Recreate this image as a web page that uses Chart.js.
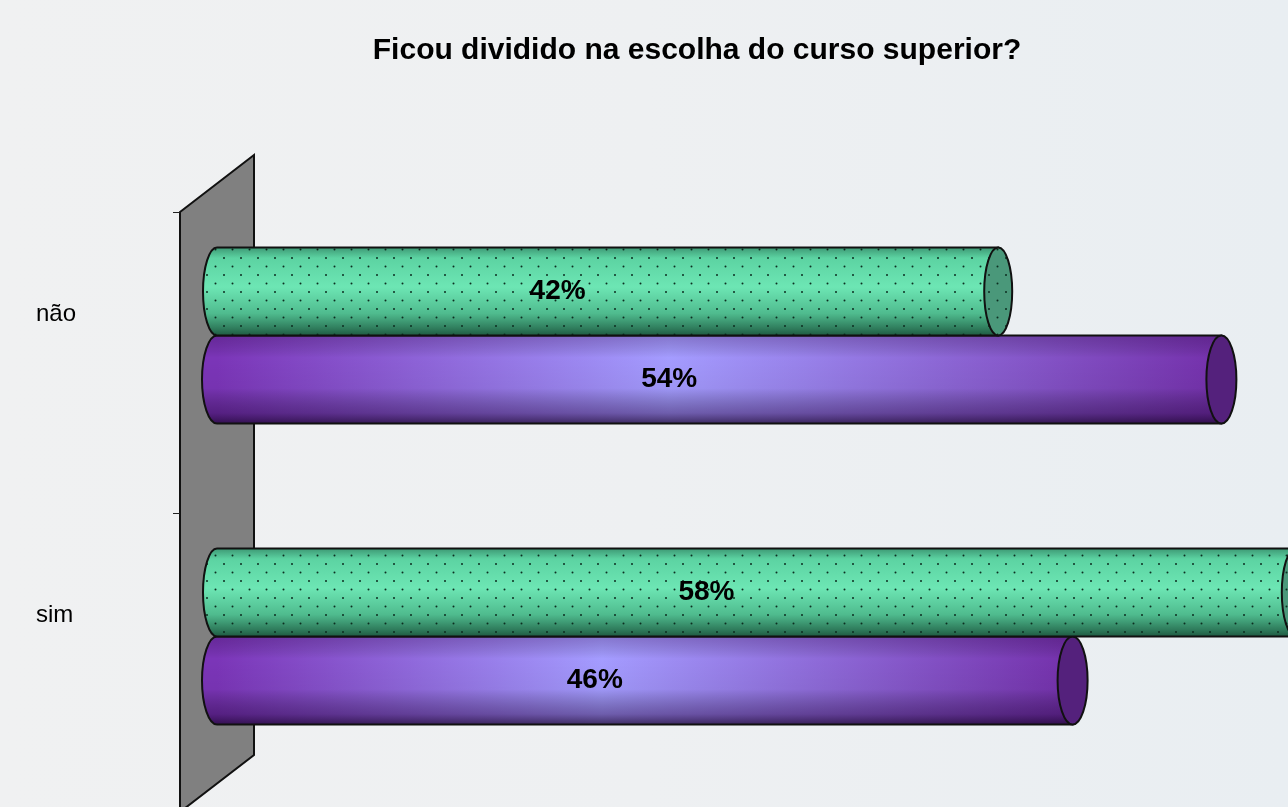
<!DOCTYPE html>
<html>
<head>
<meta charset="utf-8">
<script src="https://cdn.jsdelivr.net/npm/chart.js@4.4.1/dist/chart.umd.min.js"></script>
<style>
  html, body { margin: 0; padding: 0; overflow: hidden; }
  body { width: 1288px; height: 807px; background: linear-gradient(90deg, #f0f1f2 0%, #eef0f2 50%, #e9eef2 100%); }
  canvas { display: block; width: 1333px; height: 807px; }
</style>
</head>
<body>
<canvas id="chart" width="1333" height="807"></canvas>
<script>
const chartTitle = 'Ficou dividido na escolha do curso superior?';
const categories = ['não', 'sim'];
const seriesGreen = [42, 58];
const seriesPurple = [54, 46];

const FONT = '"Liberation Sans", Arial, sans-serif';

function dotPattern(ctx) {
  const c = document.createElement('canvas');
  c.width = 17; c.height = 17;
  const p = c.getContext('2d');
  p.fillStyle = '#0c2e20';
  [[3, 3], [11.5, 11.5]].forEach(d => {
    p.beginPath();
    p.arc(d[0], d[1], 1, 0, Math.PI * 2);
    p.fill();
  });
  return ctx.createPattern(c, 'repeat');
}

function bodyPath(ctx, x0, x1, y, h, rx) {
  ctx.beginPath();
  ctx.moveTo(x1, y - h / 2);
  ctx.lineTo(x0, y - h / 2);
  ctx.ellipse(x0, y, rx, h / 2, 0, -Math.PI / 2, Math.PI / 2, true);
  ctx.lineTo(x1, y + h / 2);
  ctx.closePath();
}

function capPath(ctx, x1, y, h, rx) {
  ctx.beginPath();
  ctx.ellipse(x1, y, rx, h / 2, 0, 0, Math.PI * 2);
}

function drawGreen(ctx, el, pattern) {
  const x0 = el.base, x1 = el.x, y = el.y, h = el.height, rx = 14;
  const top = y - h / 2;
  const g = ctx.createLinearGradient(0, top, 0, top + h);
  g.addColorStop(0, '#3d9874');
  g.addColorStop(0.12, '#5cd3a2');
  g.addColorStop(0.45, '#6de6b4');
  g.addColorStop(0.75, '#4fbb8e');
  g.addColorStop(0.92, '#2f7c5c');
  g.addColorStop(1, '#1f5a42');
  bodyPath(ctx, x0, x1, y, h, rx);
  ctx.fillStyle = g; ctx.fill();
  ctx.fillStyle = pattern; ctx.fill();
  ctx.lineWidth = 2; ctx.strokeStyle = '#111'; ctx.stroke();
  capPath(ctx, x1, y, h, rx);
  ctx.fillStyle = '#4a987a'; ctx.fill();
  ctx.fillStyle = pattern; ctx.fill();
  ctx.stroke();
}

function drawPurple(ctx, el) {
  const x0 = el.base, x1 = el.x, y = el.y, h = el.height, rx = 15;
  const top = y - h / 2;
  const hg = ctx.createLinearGradient(x0, 0, x1, 0);
  hg.addColorStop(0, '#7b35b8');
  hg.addColorStop(0.45, '#a49cff');
  hg.addColorStop(1, '#7430ab');
  const vg = ctx.createLinearGradient(0, top, 0, top + h);
  vg.addColorStop(0, 'rgba(40,0,60,0.25)');
  vg.addColorStop(0.25, 'rgba(0,0,0,0)');
  vg.addColorStop(0.6, 'rgba(0,0,0,0.04)');
  vg.addColorStop(0.88, 'rgba(30,0,50,0.4)');
  vg.addColorStop(1, 'rgba(20,0,35,0.7)');
  bodyPath(ctx, x0, x1, y, h, rx);
  ctx.fillStyle = hg; ctx.fill();
  ctx.fillStyle = vg; ctx.fill();
  ctx.lineWidth = 2; ctx.strokeStyle = '#111'; ctx.stroke();
  capPath(ctx, x1, y, h, rx);
  ctx.fillStyle = '#54217c'; ctx.fill();
  ctx.stroke();
}

const cylinderPlugin = {
  id: 'cylinders',
  beforeDatasetsDraw(chart) {
    const ctx = chart.ctx;
    const a = chart.chartArea;
    // back wall
    ctx.save();
    ctx.beginPath();
    ctx.moveTo(a.left - 37, a.top + 27);
    ctx.lineTo(a.left + 37, a.top - 30);
    ctx.lineTo(a.left + 37, a.bottom - 32);
    ctx.lineTo(a.left - 37, a.bottom + 25);
    ctx.closePath();
    ctx.fillStyle = '#808080'; ctx.fill();
    ctx.lineWidth = 2; ctx.strokeStyle = '#111'; ctx.stroke();
    // category tick marks
    const band = (a.bottom - a.top) / categories.length;
    ctx.lineWidth = 1; ctx.strokeStyle = '#222';
    for (let i = 0; i <= categories.length; i++) {
      const ty = Math.round(a.top + 27 + i * band) + 0.5;
      ctx.beginPath();
      ctx.moveTo(a.left - 44, ty);
      ctx.lineTo(a.left - 37, ty);
      ctx.stroke();
    }
    ctx.restore();
  },
  afterDatasetsDraw(chart) {
    const ctx = chart.ctx;
    const pattern = dotPattern(ctx);
    ctx.save();
    const green = chart.getDatasetMeta(0).data;
    const purple = chart.getDatasetMeta(1).data;
    purple.forEach(el => drawPurple(ctx, el));
    green.forEach(el => drawGreen(ctx, el, pattern));
    // value labels
    ctx.fillStyle = '#000';
    ctx.font = 'bold 28px ' + FONT;
    ctx.textAlign = 'center';
    ctx.textBaseline = 'middle';
    [chart.getDatasetMeta(0), chart.getDatasetMeta(1)].forEach((meta, di) => {
      const vals = di === 0 ? seriesGreen : seriesPurple;
      meta.data.forEach((el, i) => {
        ctx.fillText(vals[i] + '%', (el.base + el.x) / 2 - 50, el.y);
      });
    });
    // title
    ctx.font = 'bold 30px ' + FONT;
    ctx.fillText(chartTitle, 697, 51);
    ctx.restore();
  }
};

const ctx = document.getElementById('chart').getContext('2d');
new Chart(ctx, {
  type: 'bar',
  data: {
    labels: categories,
    datasets: [
      { label: 'Série 1', data: seriesGreen, backgroundColor: 'rgba(0,0,0,0)', categoryPercentage: 0.585, barPercentage: 1 },
      { label: 'Série 2', data: seriesPurple, backgroundColor: 'rgba(0,0,0,0)', categoryPercentage: 0.585, barPercentage: 1 }
    ]
  },
  options: {
    indexAxis: 'y',
    responsive: false,
    maintainAspectRatio: false,
    animation: false,
    layout: { padding: { top: 185, bottom: 20, left: 36, right: 0 } },
    plugins: {
      legend: { display: false },
      tooltip: { enabled: false },
      title: { display: false }
    },
    scales: {
      x: { display: false, min: 0, max: 60 },
      y: {
        grid: { display: false, drawTicks: false },
        border: { display: false },
        ticks: {
          crossAlign: 'far',
          padding: 0,
          labelOffset: -21,
          color: '#000',
          font: { family: FONT, size: 24 }
        },
        afterFit: s => { s.width = 181; }
      }
    }
  },
  plugins: [cylinderPlugin]
});
</script>
</body>
</html>
